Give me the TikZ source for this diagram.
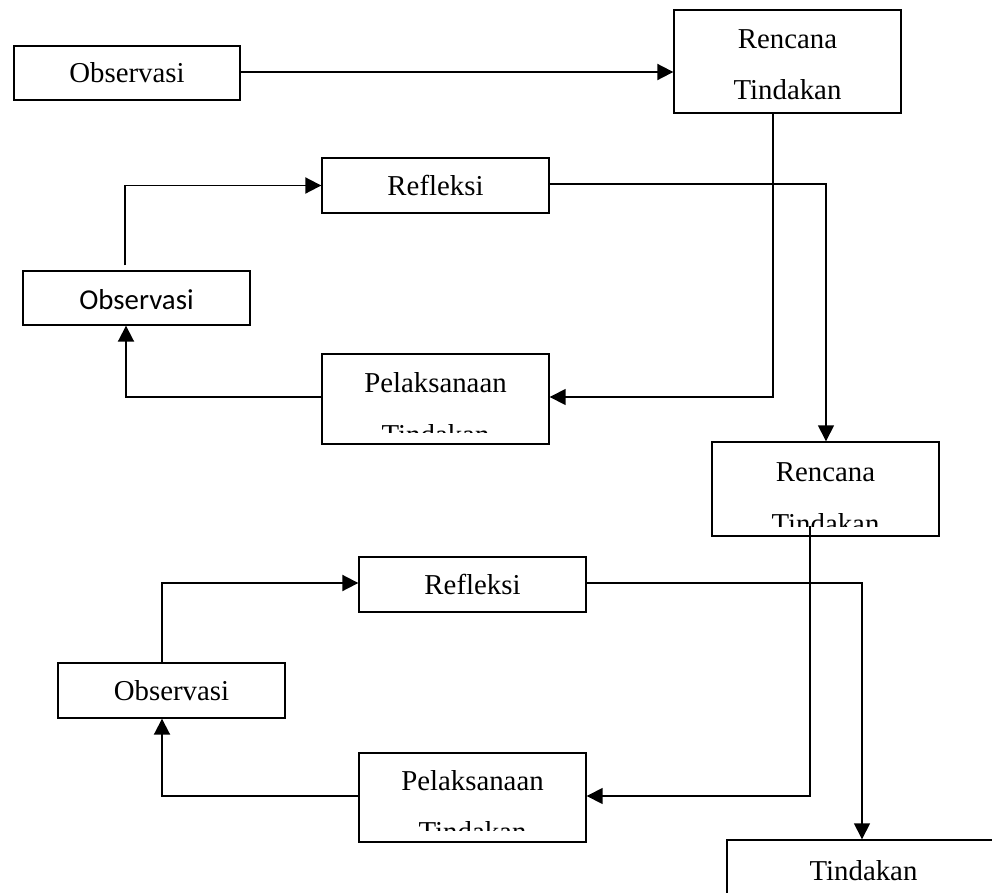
\documentclass[tikz,border=0pt]{standalone}
\usepackage{fontspec}
\setmainfont{Liberation Serif}
\newfontfamily\calib{Carlito}
\usetikzlibrary{arrows.meta}
\begin{document}
\begin{tikzpicture}[x=0.02cm,y=-0.02cm,
  box/.style={draw, line width=0.8pt, rectangle, inner sep=0pt, font=\fontsize{16.4}{20}\selectfont},
  lbl/.style={font=\fontsize{16.4}{20}\selectfont, inner sep=0pt, anchor=base},
  arr/.style={line width=1.1pt, -{Triangle[length=0.32cm,width=0.32cm]}},
  thinarr/.style={line width=0.8pt, -{Triangle[length=0.32cm,width=0.32cm]}}]
\useasboundingbox (0,0) rectangle (992,893);
\clip (0,0) rectangle (992,893);

% boxes
\node[box, minimum width=4.52cm, minimum height=1.08cm] (obs1) at (127,73) {Observasi};
\node[box, minimum width=4.54cm, minimum height=2.06cm] (ren1) at (787.5,61.5) {};
\node[box, minimum width=4.54cm, minimum height=1.10cm] (ref1) at (435.5,185.5) {Refleksi};
\node[box, minimum width=4.54cm, minimum height=1.08cm] (obs2) at (136.5,298) {};
\node[box, minimum width=4.54cm, minimum height=1.80cm] (pel1) at (435.5,399) {};
\node[box, minimum width=4.54cm, minimum height=1.88cm] (ren2) at (825.5,489) {};
\node[box, minimum width=4.54cm, minimum height=1.10cm] (ref2) at (472.5,584.5) {Refleksi};
\node[box, minimum width=4.54cm, minimum height=1.10cm] (obs3) at (171.5,690.5) {Observasi};
\node[box, minimum width=4.54cm, minimum height=1.78cm] (pel2) at (472.5,797.5) {};
\node[box, minimum width=5.46cm, minimum height=2.20cm] (tind) at (863.5,895) {};

% texts
\node[lbl] (ren1a) at (787.5,48) {Rencana};
\node[lbl] (ren1b) at (787.5,99) {Tindakan};
\node[lbl, font=\calib\fontsize{16.4}{20}\selectfont] (obs2t) at (136.5,309) {Observasi};
\node[lbl] (pel1a) at (435.5,392.7) {Pelaksanaan};
\begin{scope}
  \clip (322,354) rectangle (549,432);
  \node[lbl] (pel1b) at (435.5,444) {Tindakan};
\end{scope}
\node[lbl] (ren2a) at (825.5,481.7) {Rencana};
\begin{scope}
  \clip (712,442) rectangle (939,526);
  \node[lbl] (ren2b) at (825.5,533) {Tindakan};
\end{scope}
\node[lbl] (pel2a) at (472.5,790) {Pelaksanaan};
\begin{scope}
  \clip (359,753) rectangle (586,830.7);
  \node[lbl] (pel2b) at (472.5,841) {Tindakan};
\end{scope}
\node[lbl] (tindt) at (863.5,880) {Tindakan};

% connectors
\draw[arr] (obs1.east |- 0,72) -- (ren1.west |- 0,72);
\draw[thinarr] (ren1.south -| 773,0) |- (pel1.east |- 0,397);
\draw[thinarr] (ref1.east |- 0,184) -| (ren2.north -| 826,0);
\draw[arr, shorten <=0.1cm] (obs2.north -| 125,0) |- (ref1.west);
\draw[arr] (pel1.west |- 0,397) -| (obs2.south -| 126,0);
\draw[thinarr] (810,526) |- (pel2.east |- 0,796);
\draw[thinarr] (ref2.east |- 0,583) -| (tind.north -| 862,0);
\draw[arr] (obs3.north -| 162,0) |- (ref2.west |- 0,583);
\draw[arr] (pel2.west |- 0,796) -| (obs3.south -| 162,0);
\end{tikzpicture}
\end{document}
